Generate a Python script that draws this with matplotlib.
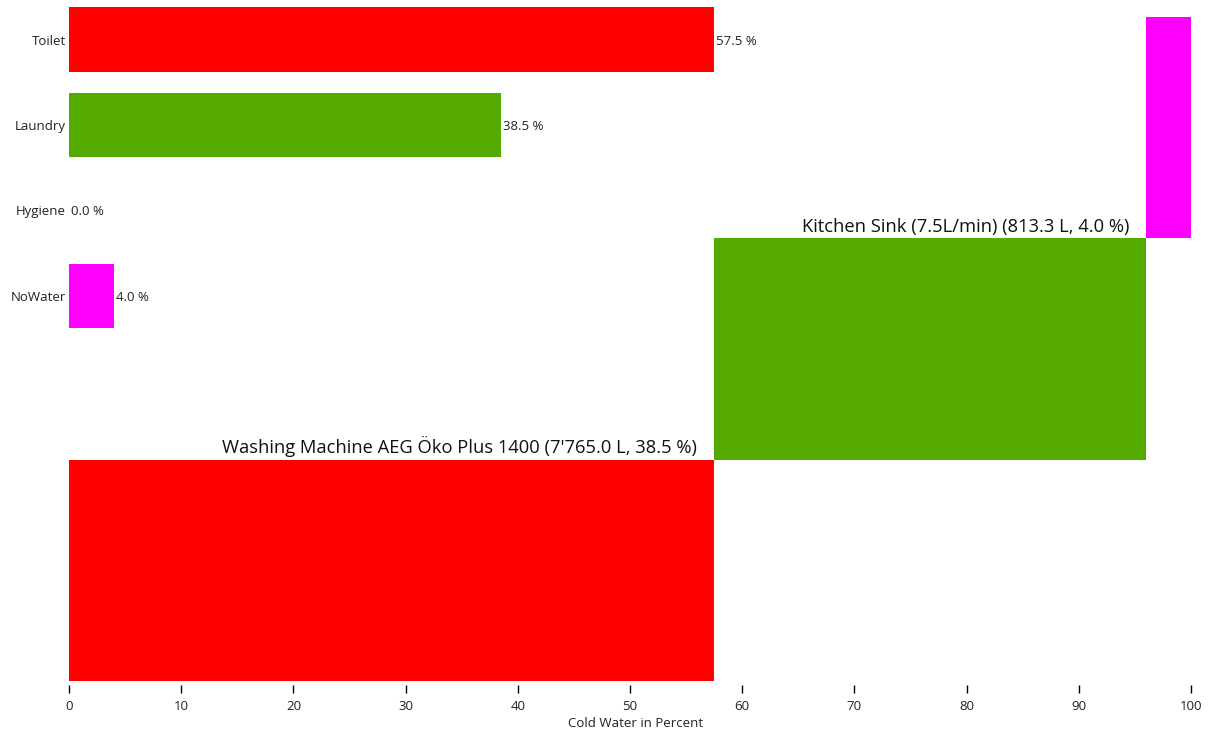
import numpy as np
import matplotlib.pyplot as plt

plt.rcParams['font.family'] = ['Open Sans', 'DejaVu Sans']

# category bars
categories = ['Toilet', 'Laundry', 'Hygiene', 'NoWater']
shares = [57.5, 38.5, 0.0, 4.0]
cat_colors = ['#FF0000', '#55AA00', '#FF00FF', '#FF00FF']

# stacked cascade (bottom to top)
cascade_shares = [57.5, 38.5, 4.0]
cascade_colors = ['#FF0000', '#55AA00', '#FF00FF']
cascade_labels = ["Washing Machine AEG Öko Plus 1400 (7'765.0 L, 38.5 %)",
                  "Kitchen Sink (7.5L/min) (813.3 L, 4.0 %)",
                  ""]

W, H = 1212, 733
fig = plt.figure(figsize=(W / 100, H / 100), dpi=100)
ax = fig.add_axes([69 / W, (H - 681) / H, (1191 - 69) / W, 681 / H])

ypos = np.arange(len(categories))
ax.barh(ypos, shares, height=0.76, color=cat_colors)
for y, v in zip(ypos, shares):
    ax.text(v + 0.2, y, f'{v:.1f} %', va='center_baseline', ha='left',
            fontsize=9.5, color='#222222')

# cascade occupies the lower-right area, three equal steps
c_top, c_bottom = -0.26, 7.50
step = (c_bottom - c_top) / len(cascade_shares)
starts = np.concatenate([[0], np.cumsum(cascade_shares)[:-1]])
centers = c_bottom - step * (np.arange(len(cascade_shares)) + 0.5)
ax.barh(centers, cascade_shares, left=starts, height=step, color=cascade_colors)
for c, s, v, lab in zip(centers, starts, cascade_shares, cascade_labels):
    if lab:
        ax.text(s + v - 1.5, c - step / 2 - 0.03, lab, ha='right', va='bottom',
                fontsize=13.2, color='#111111')

ax.set_xlim(0, 100)
ax.set_ylim(7.503, -0.462)
ax.set_yticks(ypos)
ax.set_yticklabels(categories, fontsize=9.5, color='#222222',
                   va='center_baseline')
ax.tick_params(axis='y', length=0, pad=2)
ax.set_xticks(np.arange(0, 101, 10))
ax.tick_params(axis='x', length=6, width=1, pad=5, labelsize=9.5,
               labelcolor='#222222')
for sp in ax.spines.values():
    sp.set_visible(False)
ax.spines['bottom'].set_position(('outward', 3))
ax.set_xlabel('Cold Water in Percent', fontsize=9.5, color='#222222', labelpad=0)
ax.xaxis.set_label_coords(0.505, -0.053)

fig.savefig('out.png', dpi=100)
